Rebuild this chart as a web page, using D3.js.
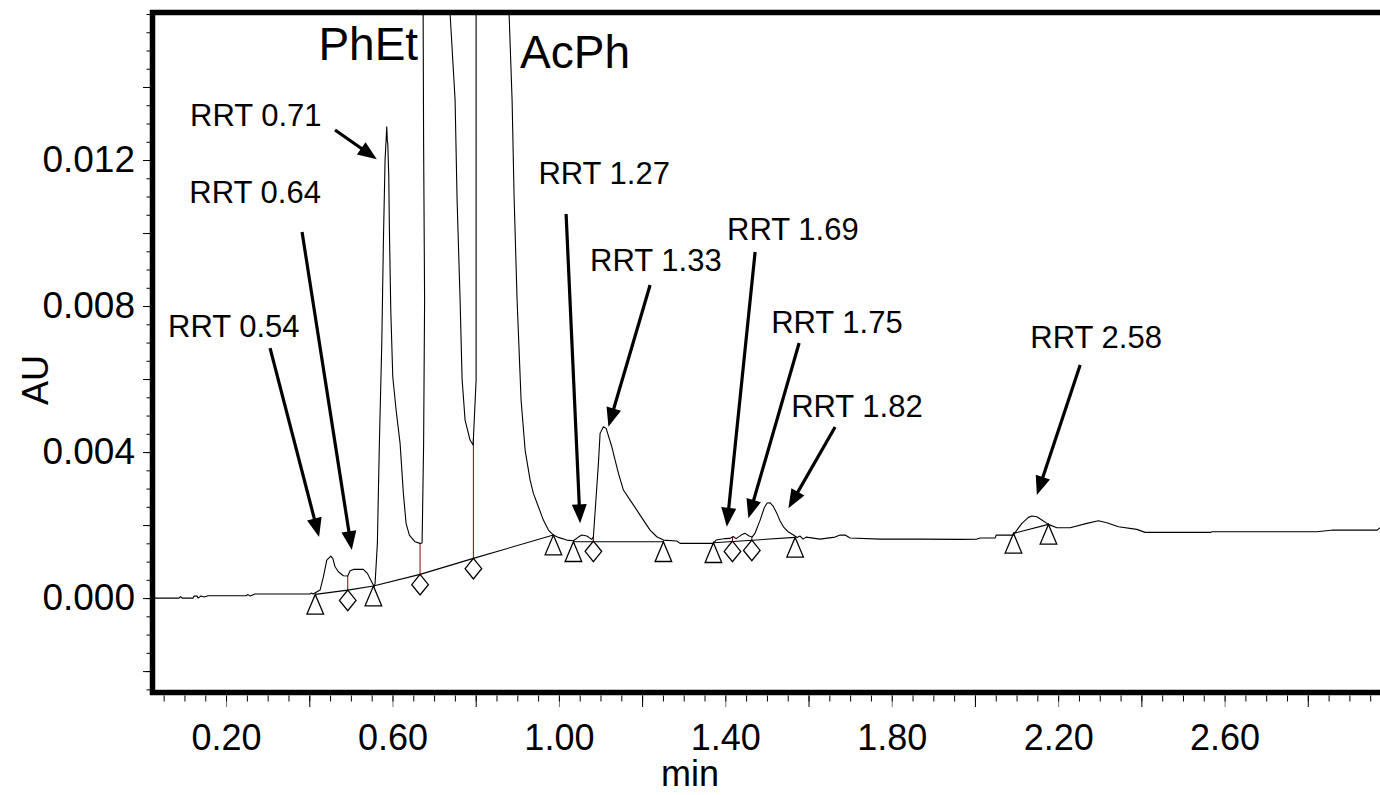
<!DOCTYPE html>
<html>
<head>
<meta charset="utf-8">
<script src="https://cdn.jsdelivr.net/npm/d3@7"></script>
<style>
  body { margin: 0; background: #fff; }
  svg { display: block; }
  text { font-family: "Liberation Sans", Arial, sans-serif; fill: #000; }
</style>
</head>
<body>
<svg id="chart" width="1380" height="795"></svg>
<script>
// Chromatogram trace: retention time (min) and absorbance (AU)
const traceTime = [
  0.0221, 0.0870, 0.0906, 0.0942, 0.1207, 0.1231, 0.1303, 0.1327, 0.1399, 0.1471,
  0.1567, 0.2481, 0.2529, 0.2577, 0.2697, 0.3298, 0.4019, 0.4060, 0.4091, 0.4260,
  0.4339, 0.4421, 0.4517, 0.4565, 0.4620, 0.4700, 0.4820, 0.4925, 0.4981, 0.5060,
  0.5300, 0.5397, 0.5478, 0.5558, 0.5582, 0.5637, 0.5685, 0.5743, 0.5781, 0.5822,
  0.5863, 0.5877, 0.5887, 0.5911, 0.5925, 0.5959, 0.6007, 0.6087, 0.6183, 0.6262,
  0.6327, 0.6406, 0.6543, 0.6663, 0.6712,
  0.6748, 0.6772, 0.6748, 0.6736, 0.7072, 0.7373, 0.7385, 0.7505, 0.7553, 0.7625,
  0.7673, 0.7745, 0.7865, 0.7938,
  0.8010, 0.8010, 0.8010, 0.8022, 0.8394, 0.8779, 0.8803, 0.8875, 0.8923, 0.8995,
  0.9091, 0.9188, 0.9308, 0.9387, 0.9507, 0.9627, 0.9748, 0.9868, 0.9988, 1.0190,
  1.0349, 1.0469, 1.0550, 1.0671, 1.0791, 1.0829, 1.0950, 1.0990, 1.1070, 1.1135,
  1.1272, 1.1351, 1.1430, 1.1550, 1.1712, 1.1873, 1.2031, 1.2192, 1.2353, 1.2512,
  1.2834, 1.2913, 1.3707, 1.3779, 1.3995, 1.4115, 1.4188, 1.4260, 1.4380, 1.4476,
  1.4572, 1.4644, 1.4716, 1.4837, 1.4933, 1.5005, 1.5077, 1.5149, 1.5238, 1.5317,
  1.5397, 1.5510, 1.5637, 1.5726, 1.5798, 1.5870, 1.5942, 1.6279, 1.6639, 1.6760,
  1.6880, 1.7000, 1.7721, 1.8683, 1.9644, 2.0053, 2.0125, 2.0486, 2.0510, 2.0918,
  2.1128, 2.1286, 2.1368, 2.1488, 2.1608, 2.1767, 2.1969, 2.2288, 2.2690, 2.2969,
  2.3171, 2.3450, 2.3892, 2.4091, 2.5654, 2.5702, 2.8219, 2.8611, 2.9668, 2.9740,
  3.0000
];
const traceAU = [
  0.000000, 0.000000, 0.000041, 0.000000, 0.000000, 0.000055, 0.000055, 0.000000, 0.000055, 0.000030,
  0.000063, 0.000063, 0.000096, 0.000055, 0.000110, 0.000110, 0.000110, 0.000137, 0.000110, 0.000219,
  0.000584, 0.001041, 0.001151, 0.001088, 0.000858, 0.000720, 0.000611, 0.000603, 0.000748, 0.000786,
  0.000786, 0.000677, 0.000493, 0.000310, 0.000403, 0.001499, 0.004238, 0.006978, 0.009718, 0.012000,
  0.012912, 0.012501, 0.012466, 0.011542, 0.010173, 0.007890, 0.006063, 0.005151, 0.004238, 0.002868,
  0.002047, 0.001726, 0.001542, 0.001499, 0.001507,
  0.004192, 0.008164, 0.012500, 0.016219, 0.030000, 0.016219, 0.016000, 0.013644, 0.010904, 0.008164,
  0.006000, 0.004877, 0.004329, 0.004192,
  0.005973, 0.010904, 0.016000, 0.016219, 0.050000, 0.016219, 0.016000, 0.013644, 0.011000, 0.008164,
  0.005425, 0.004055, 0.003233, 0.002868, 0.002501, 0.002137, 0.001863, 0.001726, 0.001663, 0.001589,
  0.001570, 0.001671, 0.001726, 0.001699, 0.001608, 0.001680, 0.003690, 0.004512, 0.004693, 0.004649,
  0.004145, 0.003781, 0.003425, 0.002959, 0.002685, 0.002411, 0.002137, 0.001863, 0.001680, 0.001589,
  0.001562, 0.001499, 0.001499, 0.001589, 0.001630, 0.001636, 0.001685, 0.001630, 0.001726, 0.001773,
  0.001699, 0.001671, 0.001781, 0.002137, 0.002466, 0.002603, 0.002611, 0.002521, 0.002321, 0.002110,
  0.001953, 0.001816, 0.001726, 0.001658, 0.001699, 0.001616, 0.001671, 0.001616, 0.001671, 0.001726,
  0.001726, 0.001644, 0.001616, 0.001616, 0.001608, 0.001616, 0.001644, 0.001644, 0.001726, 0.001726,
  0.002047, 0.002211, 0.002247, 0.002227, 0.002137, 0.002019, 0.001926, 0.001926, 0.002047, 0.002118,
  0.002063, 0.001953, 0.001882, 0.001800, 0.001800, 0.001816, 0.001816, 0.001863, 0.001863, 0.001926,
  0.001926
];

// Integration baselines, each a list of [time, AU] vertices
const baselineSegments = [
  [[0.4144, 0.000101], [0.4925, 0.000219], [0.5541, 0.000329], [0.6663, 0.000649], [0.7945, 0.001088], [0.9868, 0.001726]],
  [[1.0349, 0.001542], [1.2512, 0.001542]],
  [[1.3714, 0.001515], [1.5678, 0.001663]],
  [[2.0926, 0.001773], [2.1767, 0.002019]]
];

// Peak start/end marks (open triangles) and valley drop marks (open diamonds)
const triangleTime = [0.4144, 0.5541, 0.9868, 1.0349, 1.2512, 1.3714, 1.5678, 2.0926, 2.1767];
const triangleAU   = [0.000101, 0.000329, 0.001726, 0.001542, 0.001542, 0.001515, 0.001663, 0.001773, 0.002019];
const diamondTime  = [0.4925, 0.6663, 0.7945, 1.0829, 1.4171, 1.4637];
const diamondAU    = [0.000219, 0.000649, 0.001088, 0.001562, 0.001560, 0.001589];

// Main peak names
const peakNames    = ["PhEt", "AcPh"];
const peakNameTime = [0.4219, 0.9067];
const peakNameAU   = [0.01474, 0.014512];

// Impurity annotations: label anchor, arrow tail and arrow tip
const rrtLabels = ["RRT 0.54", "RRT 0.64", "RRT 0.71", "RRT 1.27", "RRT 1.33", "RRT 1.69", "RRT 1.75", "RRT 1.82", "RRT 2.58"];
const rrtLabelTime = [0.0606, 0.1118, 0.1135, 0.9507, 1.0750, 1.4043, 1.5101, 1.5582, 2.1332];
const rrtLabelAU   = [0.007151, 0.010830, 0.012932, 0.011334, 0.008959, 0.009808, 0.007260, 0.004959, 0.006849];
const arrowTailTime = [0.3058, 0.3827, 0.4620, 1.0173, 1.2192, 1.4716, 1.5774, 1.6639, 2.2529];
const arrowTailAU   = [0.006849, 0.010027, 0.012822, 0.010520, 0.008575, 0.009480, 0.006986, 0.004685, 0.006384];
const arrowTipTime  = [0.4236, 0.5022, 0.5623, 1.0510, 1.1190, 1.4036, 1.4555, 1.5517, 2.1488];
const arrowTipAU    = [0.001671, 0.001315, 0.012019, 0.002047, 0.004693, 0.001953, 0.002184, 0.002458, 0.002822];

// Axis ticks
const xTickLabels = [0.2, 0.6, 1.0, 1.4, 1.8, 2.2, 2.6];
const yTickLabels = [0.000, 0.004, 0.008, 0.012];

const svg = d3.select("#chart");
const plotLeft = 152, plotRight = 1391, plotTop = 14, plotBottom = 693;

const x = d3.scaleLinear().domain([0.022, 3.0]).range([plotLeft, plotRight]);
const y = d3.scaleLinear().domain([-0.0026, 0.0160]).range([plotBottom, plotTop]);

svg.append("defs").append("clipPath").attr("id", "plotClip")
  .append("rect").attr("x", plotLeft).attr("y", plotTop)
  .attr("width", plotRight - plotLeft).attr("height", plotBottom - plotTop);

const plot = svg.append("g").attr("clip-path", "url(#plotClip)");

const trace = traceTime.map((t, i) => [t, traceAU[i]]);
const line = d3.line().x(d => x(d[0])).y(d => y(d[1]));

// Absorbance value of the trace at a given time
const bis = d3.bisector(d => d[0]).left;
function traceAt(t) {
  const i = bis(trace, t);
  if (i <= 0) return trace[0][1];
  if (i >= trace.length) return trace[trace.length - 1][1];
  const a = trace[i - 1], b = trace[i];
  return a[1] + (b[1] - a[1]) * (t - a[0]) / (b[0] - a[0]);
}

// Integration baselines
plot.selectAll(".bl").data(baselineSegments).enter().append("path")
  .attr("class", "bl").attr("d", line)
  .attr("fill", "none").attr("stroke", "#000").attr("stroke-width", 1.1);

// Drop lines from baseline to trace
plot.selectAll(".drop").data(diamondTime).enter().append("line")
  .attr("class", "drop")
  .attr("x1", d => x(d)).attr("x2", d => x(d))
  .attr("y1", (d, i) => y(diamondAU[i]))
  .attr("y2", d => y(traceAt(d)))
  .attr("stroke", "#8b0000").attr("stroke-width", 1);

// Trace
plot.append("path").datum(trace).attr("d", line)
  .attr("fill", "none").attr("stroke", "#000").attr("stroke-width", 1.1)
  .attr("stroke-linejoin", "round");

// Markers
const tw = 8.3, th = 19.7;
plot.selectAll(".tri").data(triangleTime).enter().append("path")
  .attr("class", "tri")
  .attr("d", (d, i) => {
    const px = x(d), py = y(triangleAU[i]);
    return `M${px},${py}L${px + tw},${py + th}L${px - tw},${py + th}Z`;
  })
  .attr("fill", "none").attr("stroke", "#000").attr("stroke-width", 1.3);

plot.selectAll(".dia").data(diamondTime).enter().append("path")
  .attr("class", "dia")
  .attr("d", (d, i) => {
    const px = x(d), py = y(diamondAU[i]);
    return `M${px},${py}L${px + tw},${py + 10.3}L${px},${py + 20.6}L${px - tw},${py + 10.3}Z`;
  })
  .attr("fill", "none").attr("stroke", "#000").attr("stroke-width", 1.3);

// Peak names
plot.selectAll(".pk").data(peakNames).enter().append("text")
  .attr("class", "pk")
  .attr("x", (d, i) => x(peakNameTime[i]))
  .attr("y", (d, i) => y(peakNameAU[i]))
  .style("font-size", "46px")
  .text(d => d);

// Annotation labels and arrows
const ann = svg.append("g");
ann.selectAll(".rrt").data(rrtLabels).enter().append("text")
  .attr("class", "rrt")
  .attr("x", (d, i) => x(rrtLabelTime[i]))
  .attr("y", (d, i) => y(rrtLabelAU[i]))
  .style("font-size", "31px")
  .text(d => d);

const headLen = 19, headHalf = 7.5;
rrtLabels.forEach((lab, i) => {
  const x1 = x(arrowTailTime[i]), y1 = y(arrowTailAU[i]);
  const x2 = x(arrowTipTime[i]), y2 = y(arrowTipAU[i]);
  const dx = x2 - x1, dy = y2 - y1, len = Math.hypot(dx, dy);
  const ux = dx / len, uy = dy / len;
  const bx = x2 - ux * headLen, by = y2 - uy * headLen;
  ann.append("line")
    .attr("x1", x1).attr("y1", y1).attr("x2", bx + ux * 2).attr("y2", by + uy * 2)
    .attr("stroke", "#000").attr("stroke-width", 3.2);
  ann.append("path")
    .attr("d", `M${x2},${y2}L${bx - uy * headHalf},${by + ux * headHalf}L${bx + uy * headHalf},${by - ux * headHalf}Z`)
    .attr("fill", "#000");
});

// Axes
const yMajor = svg.append("g").attr("transform", `translate(${plotLeft - 2},0)`)
  .call(d3.axisLeft(y).tickValues(yTickLabels).tickSize(7).tickPadding(8).tickFormat(d3.format(".3f")));
const yMid = svg.append("g").attr("transform", `translate(${plotLeft - 2},0)`)
  .call(d3.axisLeft(y).tickValues([-0.002, 0.002, 0.006, 0.010, 0.014]).tickSize(7).tickFormat(""));
const yMinor = svg.append("g").attr("transform", `translate(${plotLeft - 2},0)`)
  .call(d3.axisLeft(y).tickValues(d3.range(-25, 161, 5).map(v => v / 10000)).tickSize(3.5).tickFormat(""));

const xMajor = svg.append("g").attr("transform", `translate(0,${plotBottom + 2.5})`)
  .call(d3.axisBottom(x).tickValues(xTickLabels).tickSize(11.5).tickFormat(d3.format(".2f")));
const xMid = svg.append("g").attr("transform", `translate(0,${plotBottom + 2.5})`)
  .call(d3.axisBottom(x).tickValues([0.4, 0.8, 1.2, 1.6, 2.0, 2.4, 2.8]).tickSize(11.5).tickFormat(""));
const xMinor = svg.append("g").attr("transform", `translate(0,${plotBottom + 2.5})`)
  .call(d3.axisBottom(x).tickValues(d3.range(1, 60).map(v => v * 0.05)).tickSize(6).tickFormat(""));

[yMajor, yMid, yMinor, xMajor, xMid, xMinor].forEach(g => {
  g.select(".domain").remove();
  g.selectAll(".tick line").attr("stroke", "#000").attr("stroke-width", 1);
});
xMajor.selectAll(".tick line").attr("stroke", "#777");
yMajor.selectAll(".tick text").style("font-size", "37px").attr("font-family", null).attr("fill", "#000");
xMajor.selectAll(".tick text").style("font-size", "36px").attr("font-family", null).attr("fill", "#000")
  .attr("dy", null).attr("y", 54);

// Frame
svg.append("path")
  .attr("d", `M${plotRight},${plotTop - 1.5}L${plotLeft + 0.5},${plotTop - 1.5}L${plotLeft + 0.5},${plotBottom - 0.5}L${plotRight},${plotBottom - 0.5}`)
  .attr("fill", "none").attr("stroke", "#000").attr("stroke-width", 5.5);

// Axis titles
svg.append("text").attr("transform", "translate(48,380) rotate(-90)")
  .attr("text-anchor", "middle").style("font-size", "36px").text("AU");
svg.append("text").attr("x", 690).attr("y", 786)
  .attr("text-anchor", "middle").style("font-size", "36px").text("min");
</script>
</body>
</html>
